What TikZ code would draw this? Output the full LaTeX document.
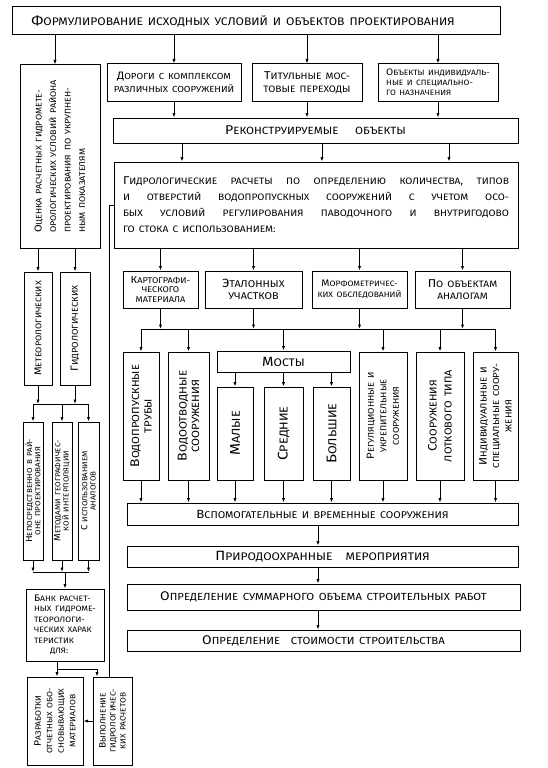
\documentclass[tikz,border=0pt]{standalone}
\usepackage{fontspec}
\usepackage{graphicx}
\setmainfont{Fira Sans}[FakeStretch=1.1]
\usetikzlibrary{arrows.meta}
\newcommand\fz[2]{\fontsize{#1}{#2}\selectfont\spaceskip=0.45em plus 0.6em minus 0.1em\relax}
\newcommand\I[1]{\scalebox{1.22}{#1}}
\tikzset{
  box/.style={draw, line width=1pt, inner sep=1pt, align=center},
  arr/.style={-{Latex[length=4.5pt,width=3.2pt]}, line width=0.8pt},
  ln/.style={line width=0.8pt},
  rlbl/.style={rotate=90, align=center, inner sep=0pt},
}
\begin{document}
\begin{tikzpicture}[x=1pt,y=-1pt]
\fill[white] (0,0) rectangle (548,768);
\useasboundingbox (0,0) rectangle (548,768);

% ---- top part ----
\node[box, minimum width=488, minimum height=28] (top) at (256,21) {};
\node[inner sep=0pt, font=\fz{11}{14}] (top-t) at (243,21)
  {\I{Ф}ОРМУЛИРОВАНИЕ ИСХОДНЫХ УСЛОВИЙ И ОБЪЕКТОВ ПРОЕКТИРОВАНИЯ};
\node[box, minimum width=134, minimum height=37, font=\fz{8.8}{13}] (roads) at (174,82.5)
  {\I{Д}ОРОГИ С КОМПЛЕКСОМ\\РАЗЛИЧНЫХ СООРУЖЕНИЙ};
\node[box, minimum width=110, minimum height=37, font=\fz{9.3}{13}] (titul) at (307,82.5)
  {\I{Т}ИТУЛЬНЫЕ МОС-\\ТОВЫЕ ПЕРЕХОДЫ};
\node[box, minimum width=120, minimum height=37, font=\fz{7.7}{10}, align=left] (objs) at (438,82.5)
  {\I{О}БЪЕКТЫ ИНДИВИДУАЛЬ-\\НЫЕ И СПЕЦИАЛЬНО-\\ГО НАЗНАЧЕНИЯ};
\node[box, minimum width=405, minimum height=25, font=\fz{10.5}{13}] (recon) at (315.5,130.5)
  {\I{Р}ЕКОНСТРУИРУЕМЫЕ\hspace{1.6em}ОБЪЕКТЫ};
\node[box, minimum width=404, minimum height=86, align=left, font=\fz{9.3}{16}] (hydro) at (316,205)
  {\hbox to 386pt{\I{Г}ИДРОЛОГИЧЕСКИЕ РАСЧЕТЫ ПО ОПРЕДЕЛЕНИЮ КОЛИЧЕСТВА, ТИПОВ}\\
   \hbox to 386pt{И ОТВЕРСТИЙ ВОДОПРОПУСКНЫХ СООРУЖЕНИЙ С УЧЕТОМ ОСО-}\\
   \hbox to 386pt{БЫХ УСЛОВИЙ РЕГУЛИРОВАНИЯ ПАВОДОЧНОГО И ВНУТРИГОДОВО}\\
   ГО СТОКА С ИСПОЛЬЗОВАНИЕМ:};

% ---- four source boxes ----
\node[box, minimum width=75, minimum height=37, font=\fz{8.3}{9.5}] (kart) at (160.5,289.5)
  {\I{К}АРТОГРАФИ-\\ЧЕСКОГО\\МАТЕРИАЛА};
\node[box, minimum width=97, minimum height=37, font=\fz{9.8}{12.5}] (etal) at (253.5,289.5)
  {\I{Э}ТАЛОННЫХ\\УЧАСТКОВ};
\node[box, minimum width=95, minimum height=37, font=\fz{7.8}{11}] (morf) at (359.5,289.5)
  {\I{М}ОРФОМЕТРИЧЕС-\\КИХ ОБСЛЕДОВАНИЙ};
\node[box, minimum width=95, minimum height=37, font=\fz{9.3}{12.5}] (poob) at (462.5,289.5)
  {\I{П}О ОБЪЕКТАМ\\АНАЛОГАМ};

% ---- structures row ----
\node[box, minimum width=36, minimum height=128] (vodopr) at (141,416) {};
\node[rlbl, font=\fz{10.3}{12.5}] (vodopr-t) at (vodopr) {\I{В}ОДОПРОПУСКНЫЕ\\ТРУБЫ};
\node[box, minimum width=41, minimum height=128] (vodoot) at (188.5,416) {};
\node[rlbl, font=\fz{10.5}{12.5}] (vodoot-t) at (vodoot) {\I{В}ОДООТВОДНЫЕ\\СООРУЖЕНИЯ};
\node[box, minimum width=133, minimum height=21, font=\fz{11}{13}] (mosty) at (283.5,361.5) {\I{М}ОСТЫ};
\node[box, minimum width=36, minimum height=93] (malye) at (235,433.5) {};
\node[rlbl, font=\fz{11.5}{13}] (malye-t) at (malye) {\I{М}АЛЫЕ};
\node[box, minimum width=39, minimum height=93] (sred) at (283.5,433.5) {};
\node[rlbl, font=\fz{11.5}{13}] (sred-t) at (sred) {\I{С}РЕДНИЕ};
\node[box, minimum width=37, minimum height=93] (bolsh) at (331.5,433.5) {};
\node[rlbl, font=\fz{11.5}{13}] (bolsh-t) at (bolsh) {\I{Б}ОЛЬШИЕ};
\node[box, minimum width=48, minimum height=128] (regul) at (383,416) {};
\node[rlbl, font=\fz{8.4}{12.5}] (regul-t) at (regul) {\I{Р}ЕГУЛЯЦИОННЫЕ И\\УКРЕПИТЕЛЬНЫЕ\\СООРУЖЕНИЯ};
\node[box, minimum width=48, minimum height=128] (lotk) at (440,416) {};
\node[rlbl, font=\fz{10}{15}] (lotk-t) at (lotk) {\I{С}ООРУЖЕНИЯ\\ЛОТКОВОГО ТИПА};
\node[box, minimum width=45, minimum height=128] (indiv) at (495.5,416) {};
\node[rlbl, font=\fz{8.8}{12.5}] (indiv-t) at (indiv) {\I{И}НДИВИДУАЛЬНЫЕ И\\СПЕЦИАЛЬНЫЕ СООРУ-\\ЖЕНИЯ};

% ---- bottom chain ----
\node[box, minimum width=391, minimum height=22, font=\fz{9.8}{12}] (vspom) at (322.5,514)
  {\I{В}СПОМОГАТЕЛЬНЫЕ И ВРЕМЕННЫЕ СООРУЖЕНИЯ};
\node[box, minimum width=391, minimum height=21, font=\fz{11}{13}] (prirod) at (322.5,556.5)
  {\I{П}РИРОДООХРАННЫЕ\hspace{1.2em}МЕРОПРИЯТИЯ};
\node[box, minimum width=393, minimum height=26, font=\fz{10.3}{13}] (summ) at (323.5,597)
  {\I{О}ПРЕДЕЛЕНИЕ СУММАРНОГО ОБЪЕМА СТРОИТЕЛЬНЫХ РАБОТ};
\node[box, minimum width=393, minimum height=21, font=\fz{10.3}{13}] (stoim) at (323.5,640.5)
  {\I{О}ПРЕДЕЛЕНИЕ\hspace{0.6em} СТОИМОСТИ СТРОИТЕЛЬСТВА};

% ---- left column ----
\node[box, minimum width=80, minimum height=183] (eval) at (60,156.5) {};
\node[rotate=90, align=left, inner sep=0pt, font=\fz{8.2}{14.5}] (eval-t) at (eval)
  {\I{О}ЦЕНКА РАСЧЕТНЫХ ГИДРОМЕТЕ-\\ОРОЛОГИЧЕСКИХ УСЛОВИЙ РАЙОНА\\ПРОЕКТИРОВАНИЯ ПО УКРУПНЕН-\\НЫМ ПОКАЗАТЕЛЯМ};
\node[box, minimum width=28, minimum height=113] (meteo) at (38,328.5) {};
\node[rlbl, font=\fz{8.2}{12}] (meteo-t) at (meteo) {\I{М}ЕТЕОРОЛОГИЧЕСКИХ};
\node[box, minimum width=30, minimum height=113] (gidro) at (75,328.5) {};
\node[rlbl, font=\fz{8.5}{12}] (gidro-t) at (gidro) {\I{Г}ИДРОЛОГИЧЕСКИХ};
\node[box, minimum width=20, minimum height=138] (neposr) at (33,491) {};
\node[rlbl, font=\fz{7.3}{8.3}] (neposr-t) at (neposr) {\I{Н}ЕПОСРЕДСТВЕННО В РАЙ-\\ОНЕ ПРОЕКТИРОВАНИЯ};
\node[box, minimum width=20, minimum height=138] (metody) at (62,491) {};
\node[rlbl, font=\fz{7.3}{8.3}] (metody-t) at (metody) {\I{М}ЕТОДАМИ ГЕОГРАФИЧЕС-\\КОЙ ИНТЕРПОЛЯЦИИ};
\node[box, minimum width=21, minimum height=138] (sispol) at (88.5,491) {};
\node[rlbl, font=\fz{7.3}{8.3}] (sispol-t) at (sispol) {\I{С} ИСПОЛЬЗОВАНИЕМ\\АНАЛОГОВ};
\node[box, minimum width=78, minimum height=72, align=left, font=\fz{7.8}{10.5}] (bank) at (65,625)
  {\I{Б}АНК РАСЧЕТ-\\НЫХ ГИДРОМЕ-\\ТЕОРОЛОГИ-\\ЧЕСКИХ ХАРАК\\ТЕРИСТИК\\\hspace*{16pt}ДЛЯ:};
\node[box, minimum width=56, minimum height=88] (razrab) at (55,721) {};
\node[rlbl, font=\fz{7.8}{11.5}] (razrab-t) at (razrab) {\I{Р}АЗРАБОТКИ\\ОТЧЕТНЫХ ОБО-\\СНОВЫВАЮЩИХ\\МАТЕРИАЛОВ};
\node[box, minimum width=39, minimum height=88] (vypoln) at (112.5,721) {};
\node[rlbl, font=\fz{7.6}{10}] (vypoln-t) at (vypoln) {\I{В}ЫПОЛНЕНИЕ\\ГИДРОЛОГИЧЕС-\\КИХ РАСЧЕТОВ};

% ---- helper coordinates ----
\coordinate (ce) at (55,0);
\coordinate (r1) at (182,0);
\coordinate (r2) at (322,0);
\coordinate (r3) at (449,0);
\coordinate (busL) at (141,329);
\coordinate (busR) at (495.5,329);
\coordinate (mid) at (318,0);
\coordinate (lk) at (109,205);
\coordinate (lb1) at (33,404);
\coordinate (lb1r) at (88.5,404);
\coordinate (lb2) at (33,572);
\coordinate (lb2r) at (88.5,572);
\coordinate (bk) at (57,669);
\coordinate (bk2) at (97,669);

% ---- connectors, right part ----
\draw[arr] (top.south -| ce) -- (eval.north -| ce);
\foreach \n in {roads,titul,objs} {
  \draw[arr] (top.south -| \n) -- (\n.north);
  \draw[arr] (\n.south) -- (recon.north -| \n);
}
\foreach \n in {r1,r2,r3} \draw[arr] (recon.south -| \n) -- (hydro.north -| \n);
\foreach \n in {kart,etal,morf,poob} {
  \draw[arr] (hydro.south -| \n) -- (\n.north);
  \draw[arr] (\n.south) -- (\n.south |- busL);
}
\draw[ln] (busL) -- (busR);
\foreach \n in {vodopr,vodoot,mosty,regul,lotk,indiv} \draw[arr] (busL -| \n) -- (\n.north);
\foreach \n in {malye,sred,bolsh} \draw[arr] (mosty.south -| \n) -- (\n.north);
\foreach \n in {vodopr,vodoot,malye,sred,bolsh,regul,lotk,indiv} \draw[arr] (\n.south) -- (vspom.north -| \n);
\draw[arr] (vspom.south -| mid) -- (prirod.north -| mid);
\draw[arr] (prirod.south -| mid) -- (summ.north -| mid);
\draw[arr] (summ.south -| mid) -- (stoim.north -| mid);
\draw[ln] (hydro.west |- lk) -- (lk) -- (lk |- vypoln.north);

% ---- connectors, left column ----
\draw[arr] (eval.south -| meteo) -- (meteo.north);
\draw[arr] (eval.south -| gidro) -- (gidro.north);
\draw[arr] (meteo.south) -- (meteo.south |- lb1);
\draw[arr] (gidro.south) -- (gidro.south |- lb1);
\draw[ln] (lb1) -- (lb1r);
\foreach \n in {neposr,metody,sispol} {
  \draw[arr] (lb1 -| \n) -- (\n.north);
  \draw[arr] (\n.south) -- (\n.south |- lb2);
}
\draw[ln] (lb2) -- (lb2r);
\draw[arr] (lb2 -| bank) -- (bank.north);
\draw[ln] (bank.south -| bk) -- (bk) -- (bk2);
\draw[arr] (bk) -- (razrab.north -| bk);
\draw[arr] (bk2) -- (vypoln.north -| bk2);
\draw[arr] (vypoln.west) -- (razrab.east);
\end{tikzpicture}
\end{document}
